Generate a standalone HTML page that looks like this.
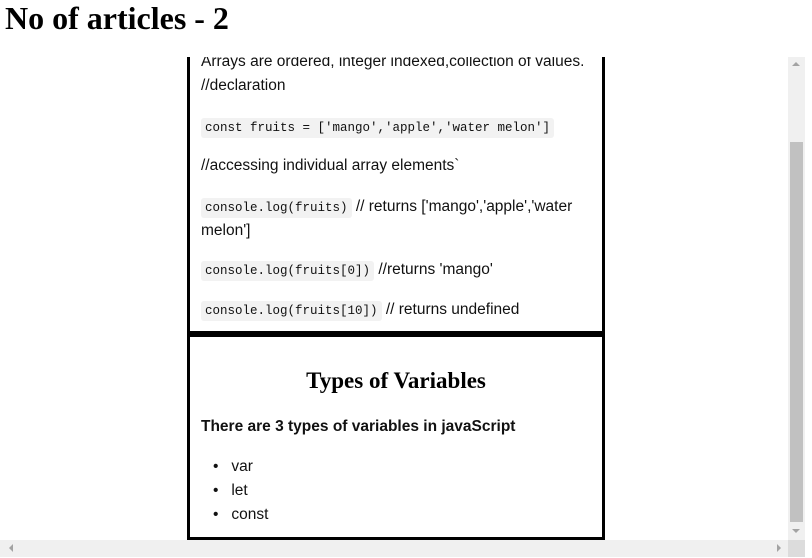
<!DOCTYPE html>
<html><head><style>
body{margin:0;width:812px;height:558px;position:relative;overflow:hidden;background:#fff;font-family:"Liberation Sans",sans-serif;}
h1{position:absolute;left:5px;top:0;margin:0;font:bold 32px "Liberation Serif",serif;line-height:36px;}
.view{position:absolute;left:0;top:57px;width:788px;height:483px;overflow:hidden;}
.t{position:absolute;left:201px;font-size:15.5px;line-height:24px;color:#111;white-space:nowrap;}
code{font-family:"Liberation Mono",monospace;font-size:12.5px;background:#f2f2f2;padding:3px 4px;border-radius:3px;}
.box{position:absolute;left:187px;width:412px;border:3px solid #000;}
</style></head><body>
<h1>No of articles - 2</h1>
<div class="view">
<div class="box" style="top:-40px;height:311px;"></div>
<div class="box" style="top:277px;height:200px;"></div>
<div class="t" style="top:-7px">Arrays are ordered, integer indexed,collection of values.</div>
<div class="t" style="top:17px">//declaration</div>
<div class="t" style="top:58px"><code>const fruits = ['mango','apple','water melon']</code></div>
<div class="t" style="top:97px">//accessing individual array elements`</div>
<div class="t" style="top:138px"><code>console.log(fruits)</code> // returns ['mango','apple','water</div>
<div class="t" style="top:162px">melon']</div>
<div class="t" style="top:201px"><code>console.log(fruits[0])</code> //returns 'mango'</div>
<div class="t" style="top:241px"><code>console.log(fruits[10])</code> // returns undefined</div>
<div style="position:absolute;left:190px;width:412px;top:311px;text-align:center;font:bold 23px 'Liberation Serif',serif;">Types of Variables</div>
<div class="t" style="top:358px;font-weight:bold">There are 3 types of variables in javaScript</div>
<div class="t" style="top:398px;left:213px">•&nbsp;&nbsp;&nbsp;var</div>
<div class="t" style="top:422px;left:213px">•&nbsp;&nbsp;&nbsp;let</div>
<div class="t" style="top:446px;left:213px">•&nbsp;&nbsp;&nbsp;const</div>
</div>
<div style="position:absolute;left:788px;top:57px;width:17px;height:483px;background:#f0f0f0;"></div>
<div style="position:absolute;left:790px;top:142px;width:13px;height:380px;background:#c1c1c1;"></div>
<div style="position:absolute;left:792px;top:62px;width:0;height:0;border-left:4px solid transparent;border-right:4px solid transparent;border-bottom:4px solid #a3a3a3;"></div>
<div style="position:absolute;left:792px;top:529px;width:0;height:0;border-left:4px solid transparent;border-right:4px solid transparent;border-top:4px solid #a3a3a3;"></div>
<div style="position:absolute;left:0;top:540px;width:788px;height:17px;background:#f0f0f0;"></div>
<div style="position:absolute;left:788px;top:540px;width:17px;height:17px;background:#dcdcdc;"></div>
<div style="position:absolute;left:9px;top:544px;width:0;height:0;border-top:4px solid transparent;border-bottom:4px solid transparent;border-right:4px solid #a3a3a3;"></div>
<div style="position:absolute;left:777px;top:544px;width:0;height:0;border-top:4px solid transparent;border-bottom:4px solid transparent;border-left:4px solid #a3a3a3;"></div>
</body></html>
